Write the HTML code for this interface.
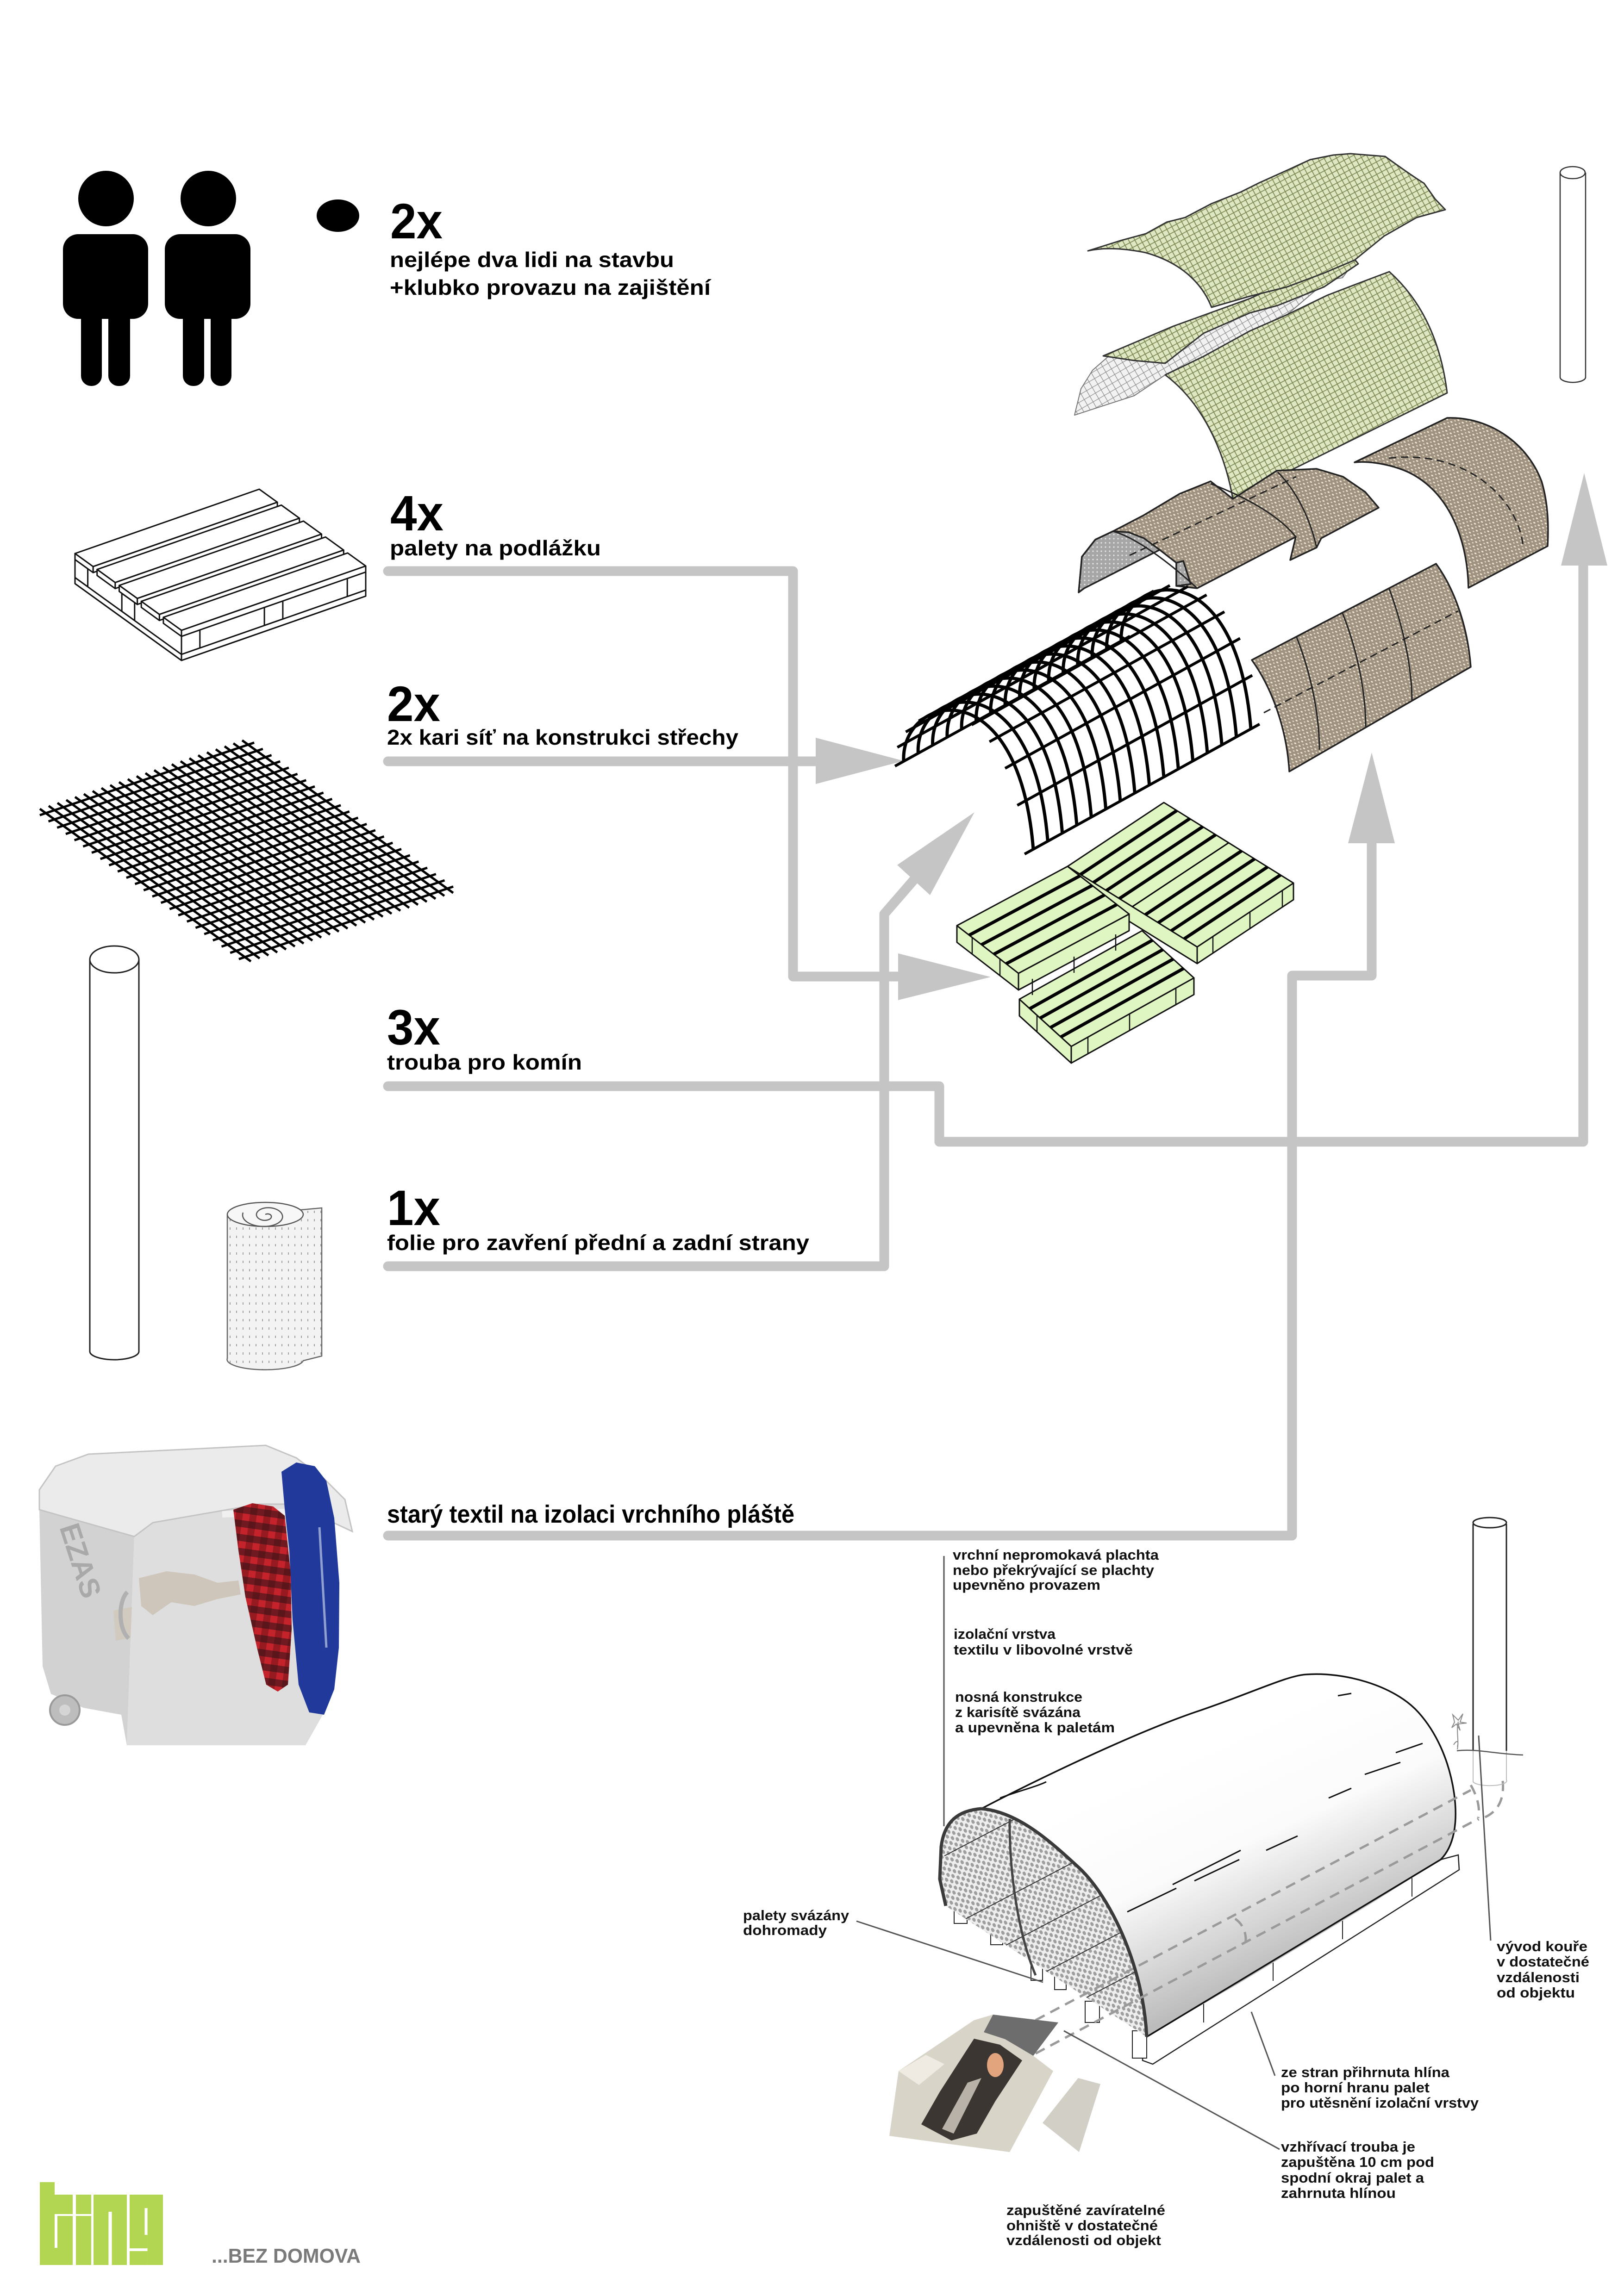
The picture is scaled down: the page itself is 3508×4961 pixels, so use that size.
<!DOCTYPE html>
<html><head><meta charset="utf-8">
<style>
html,body{margin:0;padding:0;background:#fff;}
svg{display:block;}
text{font-family:"Liberation Sans",Arial,sans-serif;}
</style></head><body>
<svg width="3508" height="4961" viewBox="0 0 3508 4961" xmlns="http://www.w3.org/2000/svg">
<defs>
 <pattern id="tarp" width="12" height="12" patternUnits="userSpaceOnUse" patternTransform="rotate(-28)">
  <rect width="12" height="12" fill="#dfe6c2"/>
  <path d="M0 0.5H12M0.5 0V12" stroke="#7c8a55" stroke-width="2.6"/>
 </pattern>
 <pattern id="brown" width="11" height="11" patternUnits="userSpaceOnUse" patternTransform="rotate(30)">
  <rect width="11" height="11" fill="#9f9280"/>
  <ellipse cx="3" cy="3" rx="2.6" ry="1.6" fill="#efe6d2"/>
  <ellipse cx="8.5" cy="8" rx="2" ry="1.4" fill="#e2d8c2"/>
 </pattern>
 <pattern id="grayt" width="9" height="9" patternUnits="userSpaceOnUse">
  <rect width="9" height="9" fill="#a6a6a6"/>
  <circle cx="3" cy="3" r="1.6" fill="#e6e6e6"/>
 </pattern>
 <pattern id="net" width="14" height="14" patternUnits="userSpaceOnUse" patternTransform="rotate(-30)">
  <rect width="14" height="14" fill="#f2f2f2"/>
  <path d="M0 0.5H14M0.5 0V14" stroke="#8f8f8f" stroke-width="1.6"/>
 </pattern>
 <pattern id="hdots" width="16" height="16" patternUnits="userSpaceOnUse" patternTransform="rotate(-30)">
  <rect width="16" height="16" fill="#eeeeee"/>
  <ellipse cx="4" cy="4" rx="3.3" ry="5" fill="#9e9e9e"/>
  <ellipse cx="12" cy="12" rx="3.3" ry="5" fill="#9e9e9e"/>
 </pattern>
 <pattern id="rollp" width="14" height="18" patternUnits="userSpaceOnUse">
  <rect width="14" height="18" fill="#f3f3f3"/>
  <rect x="6" y="6" width="2" height="5" fill="#a0a0a0"/>
 </pattern>
 <pattern id="plaid" width="30" height="30" patternUnits="userSpaceOnUse" patternTransform="rotate(8)">
  <rect width="30" height="30" fill="#c4232c"/>
  <rect x="0" y="0" width="15" height="30" fill="#7a1419" opacity="0.6"/>
  <rect x="0" y="0" width="30" height="15" fill="#2a1215" opacity="0.55"/>
 </pattern>
 <linearGradient id="hutg" gradientUnits="userSpaceOnUse" x1="2650" y1="3750" x2="2860" y2="4210">
  <stop offset="0" stop-color="#ffffff"/>
  <stop offset="0.45" stop-color="#fbfbfb"/>
  <stop offset="1" stop-color="#bcbcbc"/>
 </linearGradient>
 <clipPath id="faceclip">
  <path d="M2120 3908 C2070 3912 2040 3935 2033 3990 L2030 4060 L2043 4118 L2477 4401 C2470 4250 2400 4100 2330 4035 C2270 3980 2200 3915 2120 3908 Z"/>
 </clipPath>
 <path id="arc" d="M1952 1645 C1945 1500 2200 1440 2232 1835" fill="none" stroke="#000" stroke-width="7"/>
 <path id="m1" d="M85.9 1761.4 L549.1 1604.6" stroke="#000" stroke-width="5"/>
 <path id="m2" d="M86.1 1747.7 L541.9 2077.3" stroke="#000" stroke-width="5"/>
</defs>

<rect width="3508" height="4961" fill="#fff"/>

<!-- ========== GRAY CONNECTORS ========== -->
<g fill="none" stroke="#c5c5c5" stroke-width="21" stroke-linejoin="round" stroke-linecap="round">
 <path d="M838 1234 H1713 V2110 H1950"/>
 <path d="M838 1645 H1770"/>
 <path d="M838 2347 H2029 V2467 H3420 V1215"/>
 <path d="M838 2736 H1910 V1975 L1975 1900"/>
 <path d="M838 3318 H2791 V2108 H2963 V1815"/>
</g>
<g fill="#c5c5c5">
 <polygon points="1940,2060 2140,2111 1940,2161"/>
 <polygon points="1762,1594 1952,1644 1762,1694"/>
 <polygon points="3372,1222 3422,1022 3472,1222"/>
 <polygon points="1938,1869 2105,1755 2009,1934"/>
 <polygon points="2912,1822 2963,1626 3013,1822"/>
</g>

<!-- ========== PEOPLE ========== -->
<g fill="#000">
 <circle cx="229" cy="429" r="60"/>
 <rect x="136" y="506" width="184" height="183" rx="33"/>
 <rect x="175" y="660" width="45" height="174" rx="22"/>
 <rect x="234" y="660" width="47" height="174" rx="22"/>
 <circle cx="450" cy="429" r="60"/>
 <rect x="356" y="506" width="185" height="183" rx="33"/>
 <rect x="395" y="660" width="46" height="174" rx="22"/>
 <rect x="455" y="660" width="45" height="174" rx="22"/>
 <ellipse cx="730" cy="466" rx="46" ry="35"/>
</g>

<!-- ========== LEFT PALLET ========== -->
<g fill="#fff" stroke="#111" stroke-width="3" stroke-linejoin="round">
 <polygon points="162,1196 392,1362 392,1427 162,1261"/>
 <polygon points="392,1362 790,1223 790,1288 392,1427"/>
 <polygon points="392,1375 431.8,1361.1 431.8,1400.1 392,1414"/>
 <polygon points="571.1,1312.4 610.9,1298.5 610.9,1337.5 571.1,1351.4"/>
 <polygon points="750.2,1249.9 790,1236 790,1275 750.2,1288.9"/>
 <polygon points="392,1414 790,1275 790,1288 392,1427"/>
 <polygon points="162,1209 189.6,1228.9 189.6,1267.9 162,1248"/>
 <polygon points="263.2,1282 290.8,1301.9 290.8,1340.9 263.2,1321"/>
 <polygon points="162,1248 392,1414 392,1427 162,1261"/>
 <polygon points="162,1196 560,1057 599.1,1085.2 201.1,1224.2"/>
 <polygon points="201.1,1224.2 599.1,1085.2 599.1,1098.2 201.1,1237.2"/>
 <polygon points="162,1196 201.1,1224.2 201.1,1237.2 162,1209"/>
 <polygon points="209.7,1230.4 607.7,1091.4 646.8,1119.7 248.8,1258.7"/>
 <polygon points="248.8,1258.7 646.8,1119.7 646.8,1132.7 248.8,1271.7"/>
 <polygon points="209.7,1230.4 248.8,1258.7 248.8,1271.7 209.7,1243.4"/>
 <polygon points="257.5,1264.9 655.5,1125.9 694.6,1154.1 296.6,1293.1"/>
 <polygon points="296.6,1293.1 694.6,1154.1 694.6,1167.1 296.6,1306.1"/>
 <polygon points="257.5,1264.9 296.6,1293.1 296.6,1306.1 257.5,1277.9"/>
 <polygon points="305.2,1299.3 703.2,1160.3 742.3,1188.6 344.3,1327.6"/>
 <polygon points="344.3,1327.6 742.3,1188.6 742.3,1201.6 344.3,1340.6"/>
 <polygon points="305.2,1299.3 344.3,1327.6 344.3,1340.6 305.2,1312.3"/>
 <polygon points="352.9,1333.8 750.9,1194.8 790,1223 392,1362"/>
 <polygon points="392,1362 790,1223 790,1236 392,1375"/>
 <polygon points="352.9,1333.8 392,1362 392,1375 352.9,1346.8"/>
</g>

<!-- ========== FLAT MESH ========== -->
<g>
 <use href="#m1"/><use href="#m1" transform="translate(18.7,13.52)"/><use href="#m1" transform="translate(37.39,27.04)"/><use href="#m1" transform="translate(56.09,40.57)"/><use href="#m1" transform="translate(74.78,54.09)"/><use href="#m1" transform="translate(93.48,67.61)"/><use href="#m1" transform="translate(112.17,81.13)"/><use href="#m1" transform="translate(130.87,94.65)"/><use href="#m1" transform="translate(149.57,108.17)"/><use href="#m1" transform="translate(168.26,121.7)"/><use href="#m1" transform="translate(186.96,135.22)"/><use href="#m1" transform="translate(205.65,148.74)"/><use href="#m1" transform="translate(224.35,162.26)"/><use href="#m1" transform="translate(243.04,175.78)"/><use href="#m1" transform="translate(261.74,189.3)"/><use href="#m1" transform="translate(280.43,202.83)"/><use href="#m1" transform="translate(299.13,216.35)"/><use href="#m1" transform="translate(317.83,229.87)"/><use href="#m1" transform="translate(336.52,243.39)"/><use href="#m1" transform="translate(355.22,256.91)"/><use href="#m1" transform="translate(373.91,270.43)"/><use href="#m1" transform="translate(392.61,283.96)"/><use href="#m1" transform="translate(411.3,297.48)"/><use href="#m1" transform="translate(430,311)"/>
 <use href="#m2"/><use href="#m2" transform="translate(19,-6.43)"/><use href="#m2" transform="translate(38,-12.87)"/><use href="#m2" transform="translate(57,-19.3)"/><use href="#m2" transform="translate(76,-25.74)"/><use href="#m2" transform="translate(95,-32.17)"/><use href="#m2" transform="translate(114,-38.61)"/><use href="#m2" transform="translate(133,-45.04)"/><use href="#m2" transform="translate(152,-51.48)"/><use href="#m2" transform="translate(171,-57.91)"/><use href="#m2" transform="translate(190,-64.35)"/><use href="#m2" transform="translate(209,-70.78)"/><use href="#m2" transform="translate(228,-77.22)"/><use href="#m2" transform="translate(247,-83.65)"/><use href="#m2" transform="translate(266,-90.09)"/><use href="#m2" transform="translate(285,-96.52)"/><use href="#m2" transform="translate(304,-102.96)"/><use href="#m2" transform="translate(323,-109.39)"/><use href="#m2" transform="translate(342,-115.83)"/><use href="#m2" transform="translate(361,-122.26)"/><use href="#m2" transform="translate(380,-128.7)"/><use href="#m2" transform="translate(399,-135.13)"/><use href="#m2" transform="translate(418,-141.57)"/><use href="#m2" transform="translate(437,-148)"/>
</g>

<!-- ========== LEFT PIPE & ROLL ========== -->
<g fill="#fff" stroke="#222" stroke-width="3">
 <path d="M194 2073 V2920 A53 18 0 0 0 300 2920 V2073"/>
 <ellipse cx="247" cy="2073" rx="53" ry="29"/>
 <path d="M491 2624 V2935 A82 22 0 0 0 655 2940 L695 2930 V2610 L640 2615" fill="url(#rollp)" stroke="#666" stroke-width="2.5"/>
 <ellipse cx="573" cy="2624" rx="82" ry="26" fill="#f7f7f7" stroke="#555" stroke-width="2.5"/>
 <path d="M573 2624 c10 -4 18 4 10 10 c-14 8 -34 -2 -28 -14 c8 -14 40 -14 52 0 c12 16 -10 30 -36 30 c-30 0 -52 -14 -46 -30" fill="none" stroke="#555" stroke-width="2.5"/>
</g>

<!-- ========== BIN PHOTO (approx) ========== -->
<g>
 <path d="M85 3262 L290 3320 L274 3771 L262 3705 L180 3690 L110 3660 L92 3600 Z" fill="#d2d2d2"/>
 <path d="M290 3320 L330 3290 L560 3250 L660 3250 L705 3300 L700 3700 L660 3771 L274 3771 Z" fill="#dedede"/>
 <path d="M85 3219 L120 3168 L191 3142 L574 3123 L640 3150 L700 3195 L745 3240 L761 3309 L720 3290 L660 3250 L560 3250 L330 3290 L290 3320 L85 3262 Z" fill="#ebebeb" stroke="#c4c4c4" stroke-width="3"/>
 <path d="M300 3410 L360 3395 L420 3402 L470 3420 L515 3415 L520 3445 L470 3455 L420 3470 L370 3462 L330 3490 L305 3470 Z" fill="#cbc2b4" opacity="0.85"/>
 <path d="M245 3480 L285 3472 L282 3540 L250 3545 Z" fill="#cfc8ba" opacity="0.8"/>
 <path d="M275 3440 C255 3460 255 3520 278 3540" fill="none" stroke="#b0b0b0" stroke-width="9"/>
 <circle cx="140" cy="3695" r="32" fill="#bdbdbd" stroke="#9a9a9a" stroke-width="4"/>
 <circle cx="140" cy="3695" r="12" fill="#d5d5d5"/>
 <path d="M480 3272 L640 3266" stroke="#f0f0f0" stroke-width="14"/>
 <text x="128" y="3300" font-size="62" font-weight="bold" fill="#a9a9a9" transform="rotate(72 128 3300)">EZAS</text>
 <path d="M608 3180 L640 3160 L680 3168 L705 3200 L722 3280 L733 3420 L732 3560 L722 3650 L700 3705 L668 3700 L645 3640 L632 3500 L625 3350 L615 3260 Z" fill="#20399b"/>
 <path d="M690 3300 L705 3560" stroke="#8fa0d0" stroke-width="5"/>
 <path d="M504 3262 L545 3248 L590 3255 L615 3275 L628 3400 L630 3520 L622 3640 L600 3655 L575 3640 L555 3560 L530 3450 L515 3350 Z" fill="url(#plaid)"/>
</g>

<!-- ========== TOP RIGHT PIPE ========== -->
<g fill="#fff" stroke="#333" stroke-width="2.5">
 <path d="M3370 373 V815 A27 11 0 0 0 3425 815 V373"/>
 <ellipse cx="3397" cy="373" rx="27" ry="13"/>
</g>

<!-- ========== TARPS ========== -->
<g stroke="#333" stroke-width="3" stroke-linejoin="round">
 <path d="M2321 897 L2335 840 L2360 800 L2392 772 L2534 708 L2700 657 L2926 565 L2900 600 L2867 606 L2780 680 L2667 747 L2517 810 L2450 855 Z" fill="url(#net)" stroke="#777" stroke-width="2"/>
 <path d="M2383 769 L2534 705 L2700 645 L2820 590 L2926 560 L2934 570 L2860 620 L2760 660 L2700 676 L2600 720 L2517 785 L2450 779 Z" fill="url(#tarp)"/>
 <path d="M2517 810 L2600 770 L2700 715 L2780 680 L2867 638 L2940 610 L3001 587 C3060 640 3110 720 3126 849 L2663 1078 C2650 1000 2610 880 2517 810 Z" fill="url(#tarp)"/>
 <path d="M2350 542 L2420 520 L2475 505 L2520 480 L2560 470 L2617 440 L2680 415 L2720 395 L2780 368 L2830 345 L2880 335 L2917 332 L2992 338 Q3050 380 3076 396 L3100 430 L3122 453 L3060 470 L2990 510 L2926 562 L2860 590 L2780 620 L2700 640 L2617 664 C2600 620 2560 570 2475 546 C2420 535 2380 535 2350 542 Z" fill="url(#tarp)"/>
</g>

<!-- ========== BROWN SHELLS ========== -->
<g stroke="#222" stroke-width="3.5" stroke-linejoin="round">
 <path d="M2926 999 L3126 903 C3220 900 3300 960 3330 1040 C3345 1090 3345 1140 3343 1180 L3172 1270 C3170 1180 3140 1080 3060 1030 C3020 1005 2960 995 2926 999 Z" fill="url(#brown)"/>
 <path d="M2330 1280 L2337 1203 L2366 1166 L2404 1148 L2471 1113 L2548 1067 L2615 1040 L2663 1078 L2758 1017 L2844 1013 L2901 1030 L2949 1063 L2978 1097 L2854 1163 L2844 1183 L2787 1210 L2799 1160 L2586 1271 L2541 1266 L2541 1216 L2505 1188 L2342 1271 Z" fill="url(#brown)"/>
 <path d="M2330 1280 L2337 1203 L2366 1166 L2404 1148 L2438 1150 L2471 1163 L2505 1188 L2342 1271 Z" fill="url(#grayt)"/>
 <path d="M2541 1266 L2541 1216 L2556 1212 L2572 1262 Z" fill="url(#grayt)"/>
 <path d="M2704 1426 L3102 1218 C3140 1270 3170 1350 3177 1441 L2785 1667 C2780 1580 2750 1490 2704 1426 Z" fill="url(#brown)"/>
</g>
<g fill="none" stroke="#222" stroke-width="3">
 <path d="M2404 1148 C2450 1160 2520 1210 2586 1271"/>
 <path d="M2615 1045 C2680 1070 2760 1110 2799 1160"/>
 <path d="M2760 1020 C2800 1060 2830 1120 2844 1183"/>
 <path d="M2440 1200 L2800 1030" stroke-dasharray="16 10"/>
 <path d="M3000 990 C3170 970 3280 1080 3290 1180" stroke-dasharray="16 10"/>
 <path d="M2800 1375 C2830 1450 2850 1540 2850 1620"/>
 <path d="M2900 1325 C2930 1400 2950 1490 2950 1570"/>
 <path d="M3000 1270 C3030 1350 3050 1440 3050 1515"/>
 <path d="M2730 1540 L3150 1320" stroke-dasharray="16 10"/>
</g>

<!-- ========== KARI ARCH MESH ========== -->
<g>
 <use href="#arc"/><use href="#arc" transform="translate(31.3,-17.3)"/><use href="#arc" transform="translate(62.7,-34.7)"/><use href="#arc" transform="translate(94,-52)"/><use href="#arc" transform="translate(125.3,-69.3)"/><use href="#arc" transform="translate(156.7,-86.7)"/><use href="#arc" transform="translate(188,-104)"/><use href="#arc" transform="translate(219.3,-121.3)"/><use href="#arc" transform="translate(250.7,-138.7)"/><use href="#arc" transform="translate(282,-156)"/><use href="#arc" transform="translate(313.3,-173.3)"/><use href="#arc" transform="translate(344.7,-190.7)"/><use href="#arc" transform="translate(376,-208)"/><use href="#arc" transform="translate(407.3,-225.3)"/><use href="#arc" transform="translate(438.7,-242.7)"/><use href="#arc" transform="translate(470,-260)"/>
 <path fill="none" stroke="#000" stroke-width="6" d="M1933.2 1655.4 L2440.8 1374.6 M1938.4 1614.8 L2446 1334 M1956.6 1581.5 L2464.2 1300.7 M1984.5 1557.8 L2492.1 1277 M2019.4 1545.8 L2527 1265 M2058.6 1547.9 L2566.2 1267.1 M2098.8 1566.2 L2606.4 1285.4 M2137.3 1602.7 L2644.9 1321.9 M2171.1 1660.1 L2678.7 1379.3 M2197.4 1740.1 L2705 1459.3 M2213.2 1845.4 L2720.8 1564.6"/>
</g>

<!-- ========== GREEN PALLETS ========== -->
<g stroke="#111" stroke-width="3" stroke-linejoin="round" fill="#dff6c2">
 <polygon points="2306,1872 2586,2046 2586,2082 2306,1908"/>
 <polygon points="2586,2046 2794,1908 2794,1944 2586,2082"/>
 <polygon points="2306,1872 2514,1734 2794,1908 2586,2046"/>
 <polygon points="2067,2000 2200,2103 2200,2139 2067,2036"/>
 <polygon points="2200,2103 2439,1975 2439,2011 2200,2139"/>
 <polygon points="2067,2000 2306,1872 2439,1975 2200,2103"/>
 <polygon points="2202,2159 2314,2261 2314,2297 2202,2195"/>
 <polygon points="2314,2261 2579,2113 2579,2149 2314,2297"/>
 <polygon points="2202,2159 2467,2011 2579,2113 2314,2261"/>
</g>
<g stroke="#000" stroke-width="7" fill="none">
 <path d="M2334 1889.4 L2542 1751.4 M2362 1906.8 L2570 1768.8 M2390 1924.2 L2598 1786.2 M2418 1941.6 L2626 1803.6 M2474 1976.4 L2682 1838.4 M2502 1993.8 L2710 1855.8 M2530 2011.2 L2738 1873.2 M2558 2028.6 L2766 1890.6"/>
 <path d="M2446 1959 L2654 1821" stroke-width="3"/>
 <path d="M2093.6 2020.6 L2332.6 1892.6 M2120.2 2041.2 L2359.2 1913.2 M2146.8 2061.8 L2385.8 1933.8 M2173.4 2082.4 L2412.4 1954.4"/>
 <path d="M2224.4 2179.4 L2489.4 2031.4 M2246.8 2199.8 L2511.8 2051.8 M2269.2 2220.2 L2534.2 2072.2 M2291.6 2240.6 L2556.6 2092.6"/>
</g>
<g stroke="#111" stroke-width="2.5" fill="none">
 <path d="M2230 2115 V2150 M2320 2067 V2102 M2410 2019 V2054 M2100 2025 V2061 M2160 2071 V2107"/>
 <path d="M2620 2024 V2060 M2700 1970 V2006 M2770 1924 V1960"/>
 <path d="M2350 2241 V2277 M2440 2191 V2227 M2540 2135 V2171 M2240 2194 V2230"/>
</g>

<!-- ========== HUT ========== -->
<g>
 <path d="M2470 4405 L3112 4018 L3150 4008 L3152 4040 L2490 4460 L2468 4452 Z" fill="#fff" stroke="#222" stroke-width="2.5"/>
 <path d="M2600 4330 V4370 M2750 4240 V4280 M2900 4150 V4190 M3050 4058 V4098" stroke="#222" stroke-width="2"/>
 <path d="M2120 3908 C2250 3840 2450 3745 2580 3700 C2700 3660 2780 3620 2822 3618 C2900 3612 3010 3640 3064 3700 C3100 3740 3130 3800 3141 3875 C3150 3940 3140 3990 3112 4018 L2967 4110 L2677 4285 L2477 4401 C2470 4250 2400 4100 2330 4035 C2270 3980 2200 3915 2120 3908 Z" fill="url(#hutg)"/>
 <path d="M2120 3908 C2250 3840 2450 3745 2580 3700 C2700 3660 2780 3620 2822 3618 C2900 3612 3010 3640 3064 3700 C3100 3740 3130 3800 3141 3875 C3150 3940 3140 3990 3112 4018 L2477 4401" fill="none" stroke="#111" stroke-width="3.5"/>
 <g fill="#fff" stroke="#222" stroke-width="2">
  <rect x="2061" y="4090" width="28" height="66"/>
  <rect x="2140" y="4166" width="26" height="36"/>
  <rect x="2227" y="4228" width="25" height="51"/>
  <rect x="2278" y="4263" width="25" height="36"/>
  <rect x="2344" y="4324" width="31" height="46"/>
  <rect x="2446" y="4388" width="31" height="59"/>
 </g>
 <path d="M2120 3908 C2070 3912 2040 3935 2033 3990 L2030 4060 L2043 4118 L2477 4401 C2470 4250 2400 4100 2330 4035 C2270 3980 2200 3915 2120 3908 Z" fill="url(#hdots)"/>
 <g clip-path="url(#faceclip)" stroke="#333" stroke-width="2" fill="none">
  <path d="M2086 4146 l400 -210 M2173 4203 l400 -210 M2260 4260 l400 -210 M2347 4316 l400 -210 M2040 4010 l400 -210"/>
 </g>
 <path d="M2181 3930 C2180 4050 2200 4180 2237 4268" fill="none" stroke="#444" stroke-width="5"/>
 <path d="M2120 3908 C2070 3912 2040 3935 2033 3990 L2030 4060 L2043 4118 M2477 4401 C2470 4250 2400 4100 2330 4035 C2270 3980 2200 3915 2120 3908" fill="none" stroke="#3a3a3a" stroke-width="7"/>
 <g stroke="#111" stroke-width="3" fill="none">
  <path d="M2435 4131 L2541 4080 M2580 4064 L2677 4018 M2735 3998 L2803 3967 M2870 3885 L2919 3864 M2948 3834 L3025 3808 M3015 3787 L3073 3767 M2890 3664 L2919 3659 M2533 4072 L2680 3998 M2160 3885 C2200 3870 2240 3860 2260 3850"/>
 </g>
 <g stroke="#9a9a9a" stroke-width="5" fill="none" stroke-dasharray="22 14">
  <path d="M2237 4365 L3177 3868"/>
  <path d="M2237 4437 L3193 3930"/>
  <path d="M2668 4146 C2690 4160 2695 4190 2688 4205"/>
  <path d="M3177 3857 C3190 3880 3198 3905 3193 3928"/>
  <path d="M3246 3848 C3250 3890 3235 3920 3193 3932"/>
 </g>
 <rect x="3184" y="3293" width="68" height="489" fill="#fff"/>
 <path d="M3182 3293 V3783 M3254 3293 V3783" stroke="#222" stroke-width="3" fill="none"/>
 <ellipse cx="3218" cy="3290" rx="36" ry="11" fill="#fff" stroke="#222" stroke-width="3"/>
 <path d="M3182 3783 V3850 A36 10 0 0 0 3254 3846 V3783" stroke="#bbb" stroke-width="2" fill="none"/>
 <path d="M3147 3783 C3190 3778 3230 3790 3290 3792" stroke="#555" stroke-width="2.5" fill="none"/>
 <path d="M3148 3780 C3152 3760 3145 3740 3150 3720 M3138 3705 l12 12 l10 -14 l-6 18 l14 2 l-18 2 l4 14 l-8 -14 l-10 8 l6 -12 z M3140 3770 c6 -10 12 -10 8 4" stroke="#8a8a8a" stroke-width="2" fill="none"/>
</g>

<!-- ========== FIRE PIT PHOTO (approx) ========== -->
<g>
 <polygon points="1941,4475 2104,4365 2145,4353 2286,4370 2232,4442 2275,4475 2181,4650 1921,4615" fill="#d9d4c8"/>
 <polygon points="2125,4391 2145,4353 2286,4370 2232,4442 2171,4406" fill="#6d6d6d"/>
 <polygon points="1941,4475 2000,4440 2040,4460 1985,4505" fill="#efebe3"/>
 <polygon points="2104,4405 2160,4418 2208,4452 2150,4540 2110,4610 2055,4625 1990,4590 2030,4520" fill="#3b3631"/>
 <polygon points="2090,4500 2120,4490 2060,4610 2035,4600" fill="#b8b2a8"/>
 <ellipse cx="2150" cy="4462" rx="18" ry="26" fill="#e2a47c"/>
 <polygon points="2252,4587 2329,4490 2377,4503 2331,4650" fill="#d2cfc7"/>
</g>

<!-- ========== LEADER LINES ========== -->
<g stroke="#555" stroke-width="3" fill="none">
 <path d="M2039 3362 V3946"/>
 <path d="M1850 4151 L2253 4283"/>
 <path d="M2298 4388 L2764 4644"/>
 <path d="M2703 4347 L2754 4485"/>
 <path d="M3194 3750 L3220 4193"/>
</g>

<!-- ========== MAIN LABELS ========== -->
<g font-weight="bold" fill="#000">
 <text x="843" y="515" font-size="108" textLength="113" lengthAdjust="spacingAndGlyphs">2x</text>
 <text x="842" y="577" font-size="46" textLength="614" lengthAdjust="spacingAndGlyphs">nejlépe dva lidi na stavbu</text>
 <text x="842" y="637" font-size="46" textLength="693" lengthAdjust="spacingAndGlyphs">+klubko provazu na zajištění</text>
 <text x="843" y="1146" font-size="108" textLength="115" lengthAdjust="spacingAndGlyphs">4x</text>
 <text x="842" y="1200" font-size="46" textLength="456" lengthAdjust="spacingAndGlyphs">palety na podlážku</text>
 <text x="836" y="1558" font-size="108" textLength="115" lengthAdjust="spacingAndGlyphs">2x</text>
 <text x="836" y="1609" font-size="46" textLength="759" lengthAdjust="spacingAndGlyphs">2x kari síť na konstrukci střechy</text>
 <text x="836" y="2257" font-size="108" textLength="115" lengthAdjust="spacingAndGlyphs">3x</text>
 <text x="836" y="2311" font-size="46" textLength="421" lengthAdjust="spacingAndGlyphs">trouba pro komín</text>
 <text x="836" y="2647" font-size="108" textLength="115" lengthAdjust="spacingAndGlyphs">1x</text>
 <text x="836" y="2701" font-size="46" textLength="912" lengthAdjust="spacingAndGlyphs">folie pro zavření přední a zadní strany</text>
 <text x="836" y="3290" font-size="54" textLength="880" lengthAdjust="spacingAndGlyphs">starý textil na izolaci vrchního pláště</text>
</g>

<!-- ========== ANNOTATIONS ========== -->
<g font-weight="bold" fill="#111" font-size="31">
 <text x="2058" y="3370" textLength="445" lengthAdjust="spacingAndGlyphs">vrchní nepromokavá plachta</text>
 <text x="2058" y="3403" textLength="435" lengthAdjust="spacingAndGlyphs">nebo překrývající se plachty</text>
 <text x="2058" y="3435" textLength="319" lengthAdjust="spacingAndGlyphs">upevněno provazem</text>
 <text x="2060" y="3541" textLength="220" lengthAdjust="spacingAndGlyphs">izolační vrstva</text>
 <text x="2060" y="3575" textLength="387" lengthAdjust="spacingAndGlyphs">textilu v libovolné vrstvě</text>
 <text x="2063" y="3677" textLength="275" lengthAdjust="spacingAndGlyphs">nosná konstrukce</text>
 <text x="2063" y="3710" textLength="271" lengthAdjust="spacingAndGlyphs">z karisítě svázána</text>
 <text x="2063" y="3743" textLength="345" lengthAdjust="spacingAndGlyphs">a upevněna k paletám</text>
 <text x="3233" y="4216" textLength="196" lengthAdjust="spacingAndGlyphs">vývod kouře</text>
 <text x="3233" y="4249" textLength="200" lengthAdjust="spacingAndGlyphs">v dostatečné</text>
 <text x="3233" y="4283" textLength="179" lengthAdjust="spacingAndGlyphs">vzdálenosti</text>
 <text x="3233" y="4316" textLength="169" lengthAdjust="spacingAndGlyphs">od objektu</text>
 <text x="2767" y="4488" textLength="364" lengthAdjust="spacingAndGlyphs">ze stran přihrnuta hlína</text>
 <text x="2767" y="4521" textLength="321" lengthAdjust="spacingAndGlyphs">po horní hranu palet</text>
 <text x="2767" y="4554" textLength="427" lengthAdjust="spacingAndGlyphs">pro utěsnění izolační vrstvy</text>
 <text x="2767" y="4649" textLength="290" lengthAdjust="spacingAndGlyphs">vzhřívací trouba je</text>
 <text x="2767" y="4682" textLength="331" lengthAdjust="spacingAndGlyphs">zapuštěna 10 cm pod</text>
 <text x="2767" y="4716" textLength="309" lengthAdjust="spacingAndGlyphs">spodní okraj palet a</text>
 <text x="2767" y="4749" textLength="248" lengthAdjust="spacingAndGlyphs">zahrnuta hlínou</text>
 <text x="2174" y="4786" textLength="343" lengthAdjust="spacingAndGlyphs">zapuštěné zavíratelné</text>
 <text x="2174" y="4819" textLength="327" lengthAdjust="spacingAndGlyphs">ohniště v dostatečné</text>
 <text x="2174" y="4851" textLength="334" lengthAdjust="spacingAndGlyphs">vzdálenosti od objekt</text>
 <text x="1605" y="4149" textLength="229" lengthAdjust="spacingAndGlyphs">palety svázány</text>
 <text x="1605" y="4181" textLength="181" lengthAdjust="spacingAndGlyphs">dohromady</text>
</g>

<!-- ========== LOGO ========== -->
<g fill="#b2d651">
 <rect x="86" y="4715" width="32" height="179"/>
 <rect x="118" y="4742" width="39" height="42"/>
 <rect x="124" y="4788" width="33" height="106"/>
 <rect x="118" y="4857" width="6" height="37"/>
 <rect x="164" y="4742" width="33" height="42"/>
 <rect x="164" y="4788" width="33" height="106"/>
 <rect x="202" y="4742" width="72" height="37"/>
 <rect x="202" y="4779" width="32.4" height="115"/>
 <rect x="241.6" y="4779" width="32.4" height="115"/>
 <rect x="280" y="4742" width="72" height="29"/>
 <rect x="280" y="4771" width="32.5" height="87"/>
 <rect x="318.6" y="4771" width="33.4" height="123"/>
 <rect x="312.5" y="4829" width="6.1" height="29"/>
 <rect x="280" y="4864" width="38.6" height="30"/>
</g>
<text x="457" y="4889" font-size="44" font-weight="bold" fill="#7a7a7a" textLength="322" lengthAdjust="spacingAndGlyphs">...BEZ DOMOVA</text>
</svg>
</body></html>
